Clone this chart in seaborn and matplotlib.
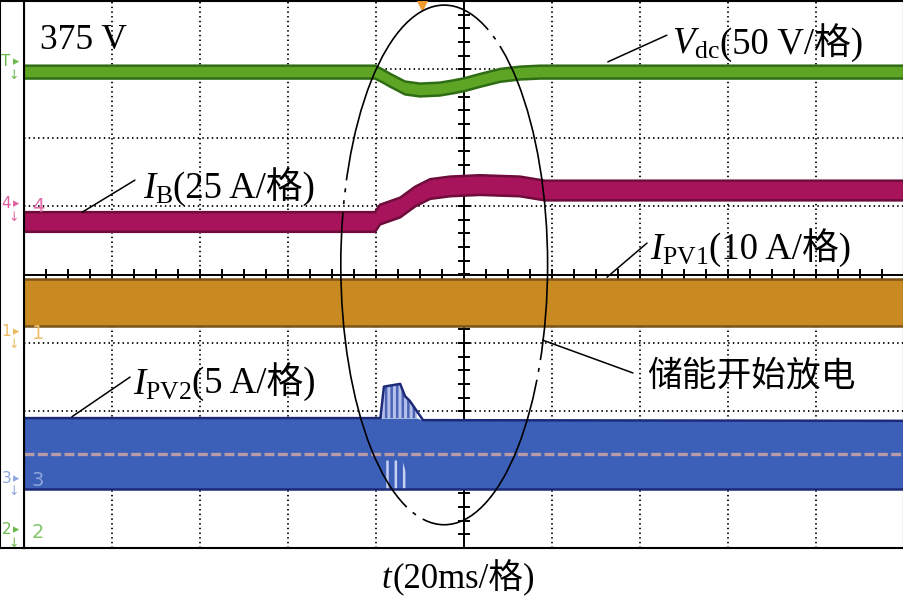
import numpy as np
import matplotlib
matplotlib.use("Agg")
import matplotlib.pyplot as plt
import seaborn as sns
from matplotlib.patches import Ellipse
from matplotlib.offsetbox import TextArea, HPacker, AnnotationBbox

# ---------------- data ----------------
# time in ms (20 ms/div, trigger at screen centre)
t_vdc = [-100, -20.2, -18.5, -16.8, -13.4, -10.0, -5.5, -2.5, 0.2, 3.6, 8.2, 12.7, 17.3, 100]
vdc_V = [375, 375, 372.2, 369.1, 363.4, 361.9, 362.6, 364.2, 365.9, 368.9, 372.6, 374.3, 375, 375]
vdc_ripple_V = 4.7

t_ib = [-100, -20.2, -19.1, -14.5, -11.1, -7.7, -3.2, 3.6, 12.7, 18.4, 100]
ib_A = [-5.8, -5.8, -3.1, -0.5, 3.5, 6.25, 7.2, 7.7, 7.2, 5.7, 5.7]
ib_ripple_A = 3.6

t_pv1 = [-100, 100]
ipv1_A = [4.6, 4.6]
ipv1_ripple_A = 3.4

t_pv2 = [-100, -19.0, -18.2, -14.5, -13.4, -12.3, -10.7, -9.3, 100]
ipv2_upper_A = [4.6, 4.6, 6.9, 7.1, 6.2, 5.85, 5.1, 4.45, 4.4]
ipv2_lower_A = [-0.6, -0.6, -0.6, -0.6, -0.6, -0.6, -0.6, -0.6, -0.6]
ipv2_mean_A = 2.0
t_pv2_osc = [-19.0, -17.8, -14.0, -12.0]
ipv2_osc_A = [-0.6, 1.5, 1.5, -0.6]

# channel scale (units/div) and screen position (div) of the reference level
vdc_scale, vdc_ref, vdc_pos = 50.0, 375.0, 2.96
ib_scale, ib_pos = 25.0, 1.0
pv1_scale, pv1_pos = 10.0, -0.87
pv2_scale, pv2_pos = 5.0, -3.02

labels_text = {"vdc_ref": "375 V", "xlabel_unit": "(20ms/格)", "event": "储能开始放电"}

# ---------------- style ----------------
sns.set_theme(style="white")
plt.rcParams["font.family"] = ["Liberation Serif", "Noto Sans CJK SC"]
plt.rcParams["mathtext.fontset"] = "custom"
plt.rcParams["mathtext.rm"] = "Liberation Serif"
plt.rcParams["mathtext.it"] = "Liberation Serif:italic"
plt.rcParams["hatch.linewidth"] = 1.8
FAM = ["Liberation Serif", "Noto Sans CJK SC"]
FS = 26.5

fig = plt.figure(figsize=(9.04, 5.98), dpi=100)
ax = fig.add_axes([24 / 904, 50 / 598, 880 / 904, 547 / 598])
axl = fig.add_axes([0, 50 / 598, 24 / 904, 547 / 598])

ax.set_xlim(-100, 100)
ax.set_ylim(-4, 4)
ax.set_xticks(np.arange(-100, 101, 20))
ax.set_yticks(np.arange(-4, 5, 1))
ax.tick_params(length=0, labelbottom=False, labelleft=False)
ax.grid(True, color="black", linestyle=(0, (0.8, 1.8)), linewidth=1.3)
ax.set_axisbelow(True)
for s in ax.spines.values():
    s.set_color("black")
    s.set_linewidth(1.5)

# centre graticule with minor ticks
ax.axvline(0, color="black", lw=1.4, zorder=1.5)
ax.axhline(0, color="black", lw=1.4, zorder=1.5)
ax.plot(np.arange(-100, 101, 5), np.zeros(41), ls="", marker="|", ms=8,
        mew=1.4, color="black", zorder=1.5)
ax.plot(np.zeros(41), np.arange(-4, 4.01, 0.2), ls="", marker="_", ms=8,
        mew=1.4, color="black", zorder=1.5)


def band(t, center, half, face, edge, z=2):
    c = np.asarray(center, float)
    lo, hi = c - half, c + half
    ax.fill_between(t, lo, hi, color=face, lw=0, zorder=z)
    sns.lineplot(x=t, y=hi, ax=ax, color=edge, lw=1.8, zorder=z + 0.1)
    sns.lineplot(x=t, y=lo, ax=ax, color=edge, lw=1.8, zorder=z + 0.1)
    return lo, hi


# Vdc
vdc_y = vdc_pos + (np.array(vdc_V) - vdc_ref) / vdc_scale
band(t_vdc, vdc_y, vdc_ripple_V / vdc_scale, "#5ea526", "#2f6d14")

# IB
ib_y = ib_pos + np.array(ib_A) / ib_scale
band(t_ib, ib_y, ib_ripple_A / ib_scale, "#a8145c", "#6e0c3a")

# IPV1
pv1_y = pv1_pos + np.array(ipv1_A) / pv1_scale
band(t_pv1, pv1_y, ipv1_ripple_A / pv1_scale, "#c98a22", "#7a5418")

# IPV2
up = pv2_pos + np.array(ipv2_upper_A) / pv2_scale
lo = pv2_pos + np.array(ipv2_lower_A) / pv2_scale
base_top = pv2_pos + ipv2_upper_A[0] / pv2_scale
ax.fill_between(t_pv2, lo, np.minimum(up, base_top), color="#3c5fb8", lw=0, zorder=2)
ax.fill_between(t_pv2, np.minimum(up, base_top), up, where=up > base_top - 1e-9,
                facecolor="#b4bfea", edgecolor="#4a63b4", hatch="|||", lw=0, zorder=2)
sns.lineplot(x=t_pv2, y=up, ax=ax, color="#1c2a78", lw=1.8, zorder=2.1)
sns.lineplot(x=t_pv2, y=lo, ax=ax, color="#1c2a78", lw=1.8, zorder=2.1)
osc = pv2_pos + np.array(ipv2_osc_A) / pv2_scale
ax.fill_between(t_pv2_osc, pv2_pos + ipv2_lower_A[0] / pv2_scale, osc,
                facecolor="none", edgecolor="#c8d0f0", hatch="||", lw=0, zorder=2.05)
ax.axhline(pv2_pos + ipv2_mean_A / pv2_scale, color="#b79aa8", lw=2.4,
           ls=(0, (3, 1)), zorder=2.3)

# faint channel reference labels inside the screen
for txt, yv, col in [("4", ib_pos, "#e26aa6"), ("1", pv1_pos, "#f0c070"),
                     ("3", pv2_pos, "#8ea4dc"), ("2", -3.77, "#86c46c")]:
    ax.text(-98.2, yv, txt, color=col, fontsize=14, family="DejaVu Sans",
            va="center", ha="left", zorder=3)

# trigger marker
ax.plot([-9.5], [3.96], marker="v", ms=8, color="#f29a2e", zorder=4)

# ellipse (long dash / dot outline) and leader lines
ell_dash = (134.4, 4.8, 2.4, 4.8, 159.6, 4.8, 2.4, 4.8, 2.4, 4.8, 185.4, 4.8,
            2.4, 4.8, 123.0, 4.8, 2.4, 4.8, 58.8, 0.01)
ax.add_patch(Ellipse((-4.5, 0.14), 47, 7.6, fill=False, ec="black", lw=1.2,
                     ls=(535.7, ell_dash), zorder=5))
leaders = [((32.7, 3.11), (46.1, 3.50)), ((-86.8, 0.91), (-74.8, 1.38)),
           ((32.5, -0.04), (41.6, 0.46)), ((17.9, -0.96), (38.4, -1.44)),
           ((-89.1, -2.08), (-75.9, -1.50))]
for (x0, y0), (x1, y1) in leaders:
    ax.plot([x0, x1], [y0, y1], color="black", lw=1.1, zorder=5)


def label(parts, xy, coords="data", align=(0, 0.5), fs=FS):
    areas = [TextArea(s, textprops=dict(fontsize=fs, family=FAM, color="black", **kw))
             for s, kw in parts]
    box = HPacker(children=areas, align="baseline", pad=0, sep=0)
    ab = AnnotationBbox(box, xy, xycoords=coords, box_alignment=align,
                        frameon=False, pad=0, annotation_clip=False, zorder=6)
    ax.add_artist(ab)


label([(labels_text["vdc_ref"], {})], (-96.4, 3.42), fs=25.5)
label([(r"$V_{\mathrm{dc}}$", {}), ("(50 V/格)", {})], (47.3, 3.40))
label([(r"$I_{\mathrm{B}}$", {}), ("(25 A/格)", {})], (-73.0, 1.28))
label([(r"$I_{\mathrm{PV1}}$", {}), ("(10 A/格)", {})], (42.3, 0.40))
label([(labels_text["event"], {})], (41.6, -1.50), fs=25)
label([(r"$I_{\mathrm{PV2}}$", {}), ("(5 A/格)", {})], (-75.2, -1.57))
label([(r"$t$", {}), (labels_text["xlabel_unit"], {})], (458 / 904, 1 - 578 / 598),
      coords="figure fraction", align=(0.5, 0.5), fs=25)

# left channel-marker strip
axl.set_xlim(0, 24)
axl.set_ylim(-4, 4)
axl.set_xticks([])
axl.set_yticks([])
axl.set_facecolor("white")
for s in axl.spines.values():
    s.set_color("black")
    s.set_linewidth(1.5)
for txt, yv, col in [("T", 3.07, "#6cb84c"), ("4", ib_pos, "#e0609e"),
                     ("1", pv1_pos, "#eeb860"), ("3", pv2_pos, "#8ea4dc"),
                     ("2", -3.77, "#6cb84c")]:
    axl.text(1.5, yv + 0.04, txt, color=col, fontsize=11, family="DejaVu Sans",
             va="center", ha="left")
    axl.text(13, yv + 0.04, "▸", color=col, fontsize=9, family="DejaVu Sans",
             va="center", ha="left")
    axl.text(8, yv - 0.16, "↓", color=col, fontsize=9, family="DejaVu Sans",
             va="center", ha="left")

fig.savefig("out.png", dpi=100)
